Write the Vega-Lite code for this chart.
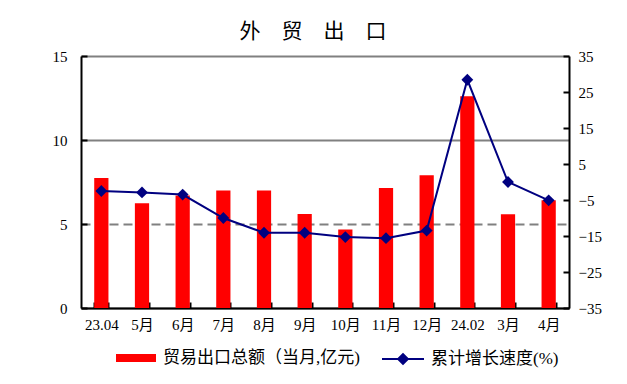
{
  "$schema": "https://vega.github.io/schema/vega-lite/v6.json",
  "width": 488,
  "height": 252,
  "autosize": {"type": "none"},
  "padding": {"left": 81, "top": 56, "right": 58, "bottom": 76},
  "background": "white",
  "title": {
    "text": "外　贸　出　口",
    "font": "Noto Sans CJK SC",
    "fontSize": 21,
    "fontWeight": "normal",
    "color": "black",
    "anchor": "middle",
    "dx": -12,
    "offset": 7
  },
  "data": {
    "values": [
      {"m": "23.04", "v": 7.74, "g": -2.5},
      {"m": "5月", "v": 6.23, "g": -2.9},
      {"m": "6月", "v": 6.7, "g": -3.5},
      {"m": "7月", "v": 7.0, "g": -10.0},
      {"m": "8月", "v": 7.0, "g": -14.1},
      {"m": "9月", "v": 5.6, "g": -14.1},
      {"m": "10月", "v": 4.68, "g": -15.3},
      {"m": "11月", "v": 7.14, "g": -15.6},
      {"m": "12月", "v": 7.9, "g": -13.5},
      {"m": "24.02", "v": 12.6, "g": 28.4},
      {"m": "3月", "v": 5.58, "g": 0.0},
      {"m": "4月", "v": 6.41, "g": -5.1}
    ]
  },
  "encoding": {
    "x": {
      "field": "m",
      "type": "nominal",
      "sort": null,
      "scale": {"paddingInner": 0.65, "paddingOuter": 0.325},
      "axis": {
        "title": null,
        "labelAngle": 0,
        "labelFont": "'Liberation Serif', 'Noto Sans CJK SC'",
        "labelFontSize": 15,
        "labelColor": "black",
        "labelPadding": 15,
        "tickBand": "extent",
        "tickSize": -6,
        "tickWidth": 2,
        "tickColor": "black",
        "domainColor": "black",
        "domainWidth": 2
      }
    }
  },
  "layer": [
    {
      "mark": {"type": "bar", "color": "#ff0000"},
      "encoding": {
        "y": {
          "field": "v",
          "type": "quantitative",
          "scale": {"domain": [0, 15], "nice": false, "zero": true},
          "axis": {
            "title": null,
            "values": [0, 5, 10, 15],
            "orient": "left",
            "grid": true,
            "gridColor": "#808080",
            "gridWidth": 2,
            "gridDash": {"condition": {"test": "datum.value == 5", "value": [9, 5]}, "value": []},
            "labelFont": "'Liberation Serif', 'Noto Sans CJK SC'",
            "labelFontSize": 15,
            "labelColor": "black",
            "labelPadding": 20,
            "tickSize": -6,
            "tickWidth": 2,
            "tickColor": "black",
            "domainColor": "black",
            "domainWidth": 2
          }
        },
        "color": {
          "datum": "贸易出口总额（当月,亿元)",
          "type": "nominal",
          "scale": {"range": ["#ff0000"]},
          "legend": {
            "title": null,
            "orient": "none",
            "legendX": 35,
            "legendY": 282,
            "symbolType": "M-1,-0.2L1,-0.2L1,0.2L-1,0.2Z",
            "symbolSize": 1600,
            "labelFont": "'Liberation Serif', 'Noto Sans CJK SC'",
            "labelFontSize": 17,
            "labelColor": "black",
            "labelOffset": 7,
            "labelLimit": 400,
            "encode": {"symbols": {"update": {"fill": {"value": "#ff0000"}, "stroke": {"value": "#ff0000"}, "strokeWidth": {"value": 0}, "opacity": {"value": 1}}}}
          }
        }
      }
    },
    {
      "mark": {
        "type": "line",
        "strokeWidth": 2,
        "point": {"shape": "diamond", "size": 140, "filled": true, "opacity": 1}
      },
      "encoding": {
        "y": {
          "field": "g",
          "type": "quantitative",
          "scale": {"domain": [-35, 35], "nice": false, "zero": false},
          "axis": {
            "title": null,
            "orient": "right",
            "values": [-35, -25, -15, -5, 5, 15, 25, 35],
            "grid": false,
            "labelFont": "'Liberation Serif', 'Noto Sans CJK SC'",
            "labelFontSize": 15,
            "labelColor": "black",
            "labelPadding": 15,
            "tickSize": -6,
            "tickWidth": 2,
            "tickColor": "black",
            "domainColor": "black",
            "domainWidth": 2
          }
        },
        "color": {
          "datum": "累计增长速度(%)",
          "type": "nominal",
          "scale": {"range": ["#000080"]},
          "legend": {
            "title": null,
            "orient": "none",
            "legendX": 301,
            "legendY": 282,
            "symbolType": "M-1,-0.05L-0.2,-0.05L-0.2,0.05L-1,0.05Z M0.2,-0.05L1,-0.05L1,0.05L0.2,0.05Z M0,-0.3L0.3,0L0,0.3L-0.3,0Z",
            "symbolSize": 1764,
            "labelFont": "'Liberation Serif', 'Noto Sans CJK SC'",
            "labelFontSize": 17,
            "labelColor": "black",
            "labelOffset": 7,
            "labelLimit": 400,
            "encode": {"symbols": {"update": {"fill": {"value": "#000080"}, "stroke": {"value": "#000080"}, "strokeWidth": {"value": 0}, "opacity": {"value": 1}}}}
          }
        }
      }
    }
  ],
  "resolve": {"scale": {"y": "independent", "color": "independent"}},
  "config": {
    "view": {"stroke": null},
    "axis": {"gridOpacity": 1}
  }
}
